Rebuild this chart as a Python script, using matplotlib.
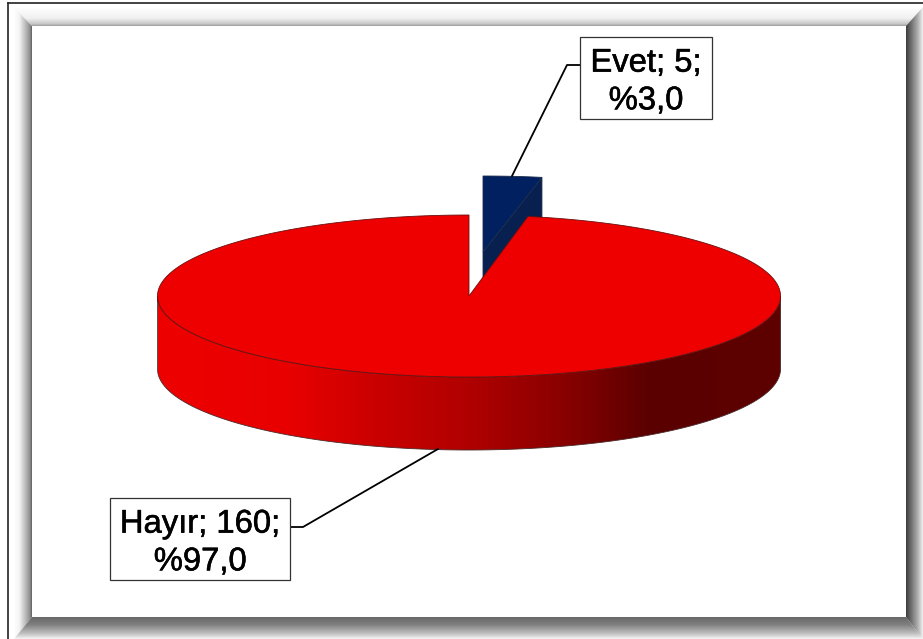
import numpy as np
import matplotlib
matplotlib.use("Agg")
import matplotlib.pyplot as plt
import matplotlib.patheffects as pe
from matplotlib.patches import Polygon, Rectangle
from matplotlib.colors import LinearSegmentedColormap

plt.rcParams['font.family'] = ['Liberation Sans', 'DejaVu Sans']

labels = ["Evet", "Hayır"]
counts = [5, 160]
percents = ["%3,0", "%97,0"]

W, H = 923, 639
# pie geometry in pixels
cx, cy = 469, 296
rx, ry = 311.5, 81
depth = 73
blue_cx, blue_cy = 483, 252
blue_ry = 76

fig = plt.figure(figsize=(W / 100, H / 100), dpi=100)
ax = fig.add_axes([0, 0, 1, 1])
ax.set_axis_off()


def gradient(ax, stops, box, clip, vertical=False, zorder=1):
    # paint a colour ramp over box, clipped to the polygon clip
    cmap = LinearSegmentedColormap.from_list("g", stops)
    ramp = np.linspace(0, 1, 256)
    ramp = ramp.reshape(-1, 1) if vertical else ramp.reshape(1, -1)
    x0, x1, y0, y1 = box
    im = ax.imshow(ramp, cmap=cmap, extent=(x0, x1, y1, y0), aspect='auto',
                   vmin=0, vmax=1, interpolation='bilinear', zorder=zorder)
    p = Polygon(clip, closed=True, transform=ax.transData, fc='none', ec='none')
    ax.add_patch(p)
    im.set_clip_path(p)


def arc(x, y, a, b, t0, t1, n=300):
    t = np.radians(np.linspace(t0, t1, n))
    return np.column_stack([x + a * np.cos(t), y - b * np.sin(t)])


# frame: bevel on the four sides
ix0, iy0, ix1, iy1 = 32, 26, 906, 617
ox0, oy0, ox1, oy1 = 9, 4, 923, 639
gradient(ax, [(0, 'white'), (0.3, '#f4f4f4'), (0.75, '#a8a8a8'), (0.9, '#8c8c8c'), (1, '#5c5c5c')],
         (ox0 + 5, ix0, 0, H),
         [(ox0 + 5, oy0 + 3), (ix0, iy0), (ix0, iy1), (ox0 + 5, oy1)])
gradient(ax, [(0, 'white'), (0.6, '#f0f0f0'), (0.9, '#c4c4c4'), (1, '#9a9a9a')],
         (0, W, oy0 + 3, iy0),
         [(ox0 + 5, oy0 + 3), (ox1, oy0 + 3), (ix1, iy0), (ix0, iy0)], vertical=True)
gradient(ax, [(0, '#3c3c3c'), (0.3, '#6e6e6e'), (0.7, '#b0b0b0'), (1, '#f2f2f2')],
         (ix1, ox1, 0, H),
         [(ix1, iy0), (ox1, oy0 + 3), (ox1, oy1), (ix1, iy1)])
gradient(ax, [(0, '#686868'), (0.35, '#808080'), (0.75, '#c0c0c0'), (1, '#f6f6f6')],
         (0, W, iy1, oy1),
         [(ix0, iy1), (ix1, iy1), (ox1, oy1), (ox0 + 5, oy1)], vertical=True)
ax.plot([ox0 - 1, ox0 - 1], [3, H], color='#222222', lw=1.2, zorder=2)
ax.plot([ox0 - 1, W], [3, 3], color='#222222', lw=1.2, zorder=2)

# slice angles from the counts, both slices measured clockwise from 12 o'clock
sweep = 360 * counts[0] / sum(counts)

# exploded Evet slice
blue_edge = dict(ec='#1c2c4c', lw=0.6)
blue_top = arc(blue_cx, blue_cy, rx, blue_ry, 90, 90 - sweep, 20)
corner = blue_top[-1]
wall = [(blue_cx, blue_cy), tuple(corner), (corner[0], corner[1] + depth), (blue_cx, blue_cy + depth)]
ax.add_patch(Polygon(wall, closed=True, fc='#07204f', zorder=3, **blue_edge))
ax.add_patch(Polygon(np.vstack([[(blue_cx, blue_cy)], blue_top]), closed=True,
                     fc='#002060', zorder=3, **blue_edge))

# Hayır slice: side wall, then top
front = arc(cx, cy, rx, ry, 180, 360)
wall_pts = np.vstack([front, (front + [0, depth])[::-1]])
gradient(ax, [(0, '#ee0000'), (0.21, '#e80000'), (0.34, '#cc0000'), (0.50, '#b00000'),
              (0.65, '#8a0000'), (0.79, '#5a0000'), (1, '#5e0000')],
         (cx - rx, cx + rx, cy, cy + ry + depth), wall_pts, zorder=4)
ax.add_patch(Polygon(wall_pts, closed=True, fc='none', ec='#4a2a2a', lw=0.6, zorder=5))
red_top = arc(cx, cy, rx, ry, 90 - sweep, 90 - 360)
ax.add_patch(Polygon(np.vstack([[(cx, cy)], red_top]), closed=True, fc='#ee0000',
                     ec='#6a1010', lw=0.6, zorder=6))

# data labels with leader lines
ax.plot([580, 567, 512], [65, 65, 176], color='black', lw=1.3, zorder=7)
ax.plot([290, 303, 438], [527, 527, 449], color='black', lw=1.3, zorder=7)
boxes = [(580, 37, 132, 82), (110, 498, 180, 82)]
for lab, n, pct, (bx, by, bw, bh) in zip(labels, counts, percents, boxes):
    ax.add_patch(Rectangle((bx, by), bw, bh, fc='white', ec='#333333', lw=0.9, zorder=8))
    t = ax.text(bx + bw / 2, by + bh / 2 + 4, f"{lab}; {n};\n{pct}", ha='center', va='center',
                fontsize=23.6, linespacing=1.28, color='black', zorder=9)
    t.set_path_effects([pe.withStroke(linewidth=0.4, foreground='black')])

ax.set_xlim(0, W)
ax.set_ylim(H, 0)
fig.savefig("out.png", dpi=100, facecolor='white')
